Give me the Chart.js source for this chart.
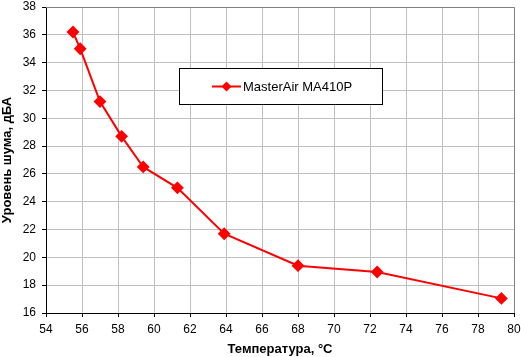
<!DOCTYPE html>
<html><head><meta charset="utf-8">
<script src="https://cdn.jsdelivr.net/npm/chart.js@4"></script>
<style>html,body{margin:0;padding:0;background:#fff}#w{width:521px;height:357px}</style>
</head><body><div id="w"><canvas id="c" width="521" height="357"></canvas></div>
<script>
const seriesName = 'MasterAir MA410P';
const temps = [55.5, 55.9, 57.0, 58.2, 59.4, 61.3, 63.9, 68.0, 72.4, 79.3];
const noise = [36.2, 35.0, 31.2, 28.7, 26.5, 25.0, 21.7, 19.4, 18.95, 17.05];
const xTitle = 'Температура, °C';
const yTitle = 'Уровень шума, дБА';

const frame = {
  id: 'frame',
  afterDraw(chart) {
    const {ctx, chartArea: a} = chart;
    ctx.save();
    ctx.strokeStyle = '#808080'; ctx.lineWidth = 1;
    ctx.beginPath();
    ctx.moveTo(a.left, a.top + 0.5); ctx.lineTo(a.right + 0.5, a.top + 0.5); ctx.lineTo(a.right + 0.5, a.bottom);
    ctx.stroke();
    // legend box
    const bx = 179.5, by = 68.5, bw = 203, bh = 36;
    ctx.fillStyle = '#fff'; ctx.fillRect(bx, by, bw, bh);
    ctx.strokeStyle = '#000'; ctx.strokeRect(bx, by, bw, bh);
    const ly = by + bh / 2;
    ctx.strokeStyle = '#ff0000'; ctx.lineWidth = 2;
    ctx.beginPath(); ctx.moveTo(212, ly); ctx.lineTo(241, ly); ctx.stroke();
    ctx.fillStyle = '#ff0000';
    ctx.beginPath(); ctx.moveTo(226.5, ly - 5); ctx.lineTo(231.5, ly); ctx.lineTo(226.5, ly + 5); ctx.lineTo(221.5, ly); ctx.closePath(); ctx.fill();
    ctx.fillStyle = '#000'; ctx.font = '13px "Liberation Sans", Arial, sans-serif';
    ctx.textBaseline = 'middle'; ctx.textAlign = 'left';
    ctx.fillText(chart.data.datasets[0].label, 243, ly + 1);
    ctx.restore();
  }
};

new Chart(document.getElementById('c'), {
  type: 'scatter',
  data: { datasets: [{
    label: seriesName,
    data: temps.map((t, i) => ({x: t, y: noise[i]})),
    showLine: true,
    borderColor: '#ff0000', backgroundColor: '#ff0000', borderWidth: 2,
    pointStyle: 'rectRot', pointRadius: 5, pointHoverRadius: 5
  }]},
  options: {
    responsive: false, animation: false, devicePixelRatio: 1,
    layout: { padding: { top: 5, right: 6, left: 0, bottom: 0 } },
    plugins: { legend: { display: false }, tooltip: { enabled: false } },
    scales: {
      x: {
        type: 'linear', min: 54, max: 80,
        afterFit(s) { s.height = 44; s.paddingRight = 0; s.paddingLeft = 0; },
        ticks: { stepSize: 2, color: '#000', font: { family: '"Liberation Sans", Arial', size: 12 }, padding: 5, maxRotation: 0 },
        grid: { color: '#c0c0c0', tickColor: '#000', tickLength: 4, lineWidth: 1 },
        border: { color: '#000', width: 1 },
        title: { display: true, text: xTitle, color: '#000', font: { family: '"Liberation Sans", Arial', size: 13, weight: 'bold' }, padding: { top: 2, bottom: 0 } }
      },
      y: {
        min: 16, max: 38,
        afterFit(s) { s.width = 46; s.paddingTop = 0; s.paddingBottom = 0; },
        ticks: { stepSize: 2, color: '#000', font: { family: '"Liberation Sans", Arial', size: 12 }, padding: 6 },
        grid: { color: '#c0c0c0', tickColor: '#000', tickLength: 4, lineWidth: 1 },
        border: { color: '#000', width: 1 },
        title: { display: true, text: yTitle, color: '#000', font: { family: '"Liberation Sans", Arial', size: 13, weight: 'bold' }, padding: { top: 0, bottom: 2 } }
      }
    }
  },
  plugins: [frame]
});
</script></body></html>
